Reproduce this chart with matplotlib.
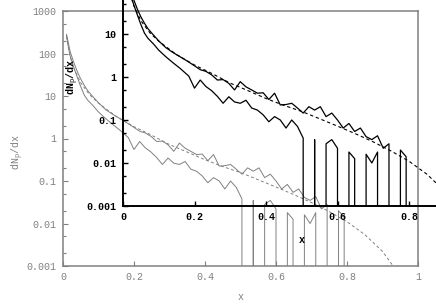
import matplotlib
matplotlib.use("Agg")
import matplotlib.pyplot as plt

plt.rcParams['font.family'] = ['Liberation Mono', 'DejaVu Sans Mono']
plt.rcParams['mathtext.fontset'] = 'custom'
plt.rcParams['mathtext.tt'] = 'Liberation Mono'
plt.rcParams['mathtext.rm'] = 'Liberation Mono'

# bins of the noisy part (shared by both histograms)
x_bins = [0.200, 0.216, 0.232, 0.248, 0.264, 0.280, 0.296, 0.312, 0.328, 0.344,
          0.360, 0.376, 0.392, 0.408, 0.424, 0.440, 0.456, 0.472, 0.488, 0.504,
          0.520, 0.536, 0.552, 0.568, 0.584, 0.600, 0.616, 0.632, 0.648, 0.664,
          0.680, 0.696, 0.712, 0.728, 0.744, 0.760, 0.776, 0.792, 0.808, 0.824,
          0.840, 0.856, 0.872]

x_upper_head = [0.010, 0.015, 0.020, 0.030, 0.040, 0.050, 0.060, 0.070, 0.085,
                0.100, 0.120, 0.140, 0.160, 0.180]
upper_head = [282, 178, 112, 63, 38, 25, 17.8, 13.2, 9.5, 6.9, 4.8, 3.7, 2.95, 2.34]
upper_bins = [1.82, 1.48, 1.35, 1.12, 0.85, 0.87, 0.71, 0.50, 0.78, 0.59,
              0.50, 0.42, 0.43, 0.30, 0.42, 0.224, 0.229, 0.245, 0.19, 0.145,
              0.204, 0.17, 0.204, 0.12, 0.145, 0.10, 0.065, 0.083, 0.054, 0.065,
              0.041, 0.035, 0.043, 0.022, 0.028, 0, 0.020, 0.014, 0, 0,
              0, 0, 0]

x_lower_head = [0.010, 0.015, 0.020, 0.030, 0.040, 0.050, 0.060, 0.070, 0.085,
                0.100, 0.120, 0.140, 0.160, 0.184]
lower_head = [263, 141, 89, 48, 28, 16.6, 10.5, 7.9, 5.9, 4.2, 2.95, 2.14, 1.58, 1.05]
lower_bins = [0.55, 0.85, 0.60, 0.48, 0.355, 0.245, 0.347, 0.263, 0.245, 0.288,
              0.19, 0.17, 0.132, 0.091, 0.12, 0.10, 0.065, 0.10, 0.071, 0.038,
              0, 0.035, 0, 0.028, 0.035, 0.022, 0, 0.018, 0.0126, 0,
              0.016, 0.010, 0.018, 0, 0, 0, 0, 0, 0, 0,
              0, 0, 0]

x_fit = [0.010, 0.020, 0.030, 0.050, 0.075, 0.100, 0.150, 0.200, 0.250, 0.300,
         0.350, 0.400, 0.450, 0.500, 0.550, 0.600, 0.650, 0.700, 0.750, 0.800,
         0.850, 0.900, 0.930, 0.950]
fit = [250, 85, 46, 20.4, 10.7, 6.8, 3.3, 1.9, 1.19, 0.72,
       0.48, 0.316, 0.219, 0.158, 0.107, 0.072, 0.048, 0.031, 0.019, 0.011,
       0.0055, 0.0022, 0.0010, 0.0005]

x_upper = x_upper_head + x_bins
upper = upper_head + upper_bins
x_lower = x_lower_head + x_bins
lower = lower_head + lower_bins

gray = '#808080'

fig = plt.figure(figsize=(4.36, 3.05), dpi=100)

# main plot (gray)
ax = fig.add_axes([63/436, 1-266/305, 355/436, 255/305])
ax.set_yscale('log')
ax.plot(x_upper, upper, color=gray, lw=0.7)
ax.plot(x_lower, lower, color=gray, lw=0.7)
ax.plot(x_fit, fit, color=gray, lw=0.7, dashes=(3, 2.5))
ax.set_xlim(0, 1)
ax.set_ylim(0.001, 1000)
ax.set_xticks([0, 0.2, 0.4, 0.6, 0.8, 1], ['0', '0.2', '0.4', '0.6', '0.8', '1'])
ax.set_yticks([0.001, 0.01, 0.1, 1, 10, 100, 1000],
              ['0.001', '0.01', '0.1', '1', '10', '100', '1000'])
ax.set_yticks([m * 10.0**e for e in range(-3, 3) for m in (2, 5)], minor=True)
ax.yaxis.set_minor_formatter(plt.NullFormatter())
ax.tick_params(which='both', direction='in', colors=gray, labelsize=7.2, pad=4.5)
ax.tick_params(which='major', length=3.5, width=0.8)
ax.tick_params(which='minor', length=2, width=0.8)
for s in ax.spines.values():
    s.set_color(gray)
    s.set_linewidth(1.1)
ax.text(0.501, -0.122, 'x', transform=ax.transAxes, ha='center', va='center',
        color=gray, fontsize=7.2)
ax.text(-0.127, 0.447, r'dN$_\mathtt{p}$/dx', transform=ax.transAxes, ha='center',
        va='center', color=gray, fontsize=7.2, rotation=90)

# inset (black)
ins = fig.add_axes([123/436, 1-206/305, 313/436, 206/305])
ins.patch.set_alpha(0)
ins.set_yscale('log')
ins.plot(x_upper, upper, color='black', lw=0.9)
ins.plot(x_lower, lower, color='black', lw=0.9)
ins.plot(x_fit, fit, color='black', lw=0.8, dashes=(3, 2.5))
ins.set_xlim(0, 313/357.5)
ins.set_ylim(0.001, 10**(206/43 - 3))
ins.set_xticks([0, 0.2, 0.4, 0.6, 0.8], ['0', '0.2', '0.4', '0.6', '0.8'])
ins.set_yticks([0.001, 0.01, 0.1, 1, 10], ['0.001', '0.01', '0.1', '1', '10'])
ins.set_yticks([m * 10.0**e for e in range(-3, 2) for m in (2, 5)], minor=True)
ins.yaxis.set_minor_formatter(plt.NullFormatter())
ins.tick_params(which='both', direction='in', colors='black', labelsize=7.2, pad=4.5)
ins.tick_params(which='major', length=3.5, width=1.0)
ins.tick_params(which='minor', length=2, width=1.0)
for lab in ins.get_xticklabels() + ins.get_yticklabels():
    lab.set_fontweight('bold')
ins.spines['top'].set_visible(False)
ins.spines['right'].set_visible(False)
ins.spines['left'].set_linewidth(1.4)
ins.spines['bottom'].set_linewidth(1.4)
ins.text(0.572, -0.165, 'x', transform=ins.transAxes, ha='center', va='center',
         color='black', fontsize=7.2, fontweight='bold')
ins.text(-0.16, 0.626, r'dN$_\mathtt{p}$/dx', transform=ins.transAxes, ha='center',
         va='center', color='black', fontsize=7.2, fontweight='bold', rotation=90)

fig.savefig('out.png', dpi=100)
